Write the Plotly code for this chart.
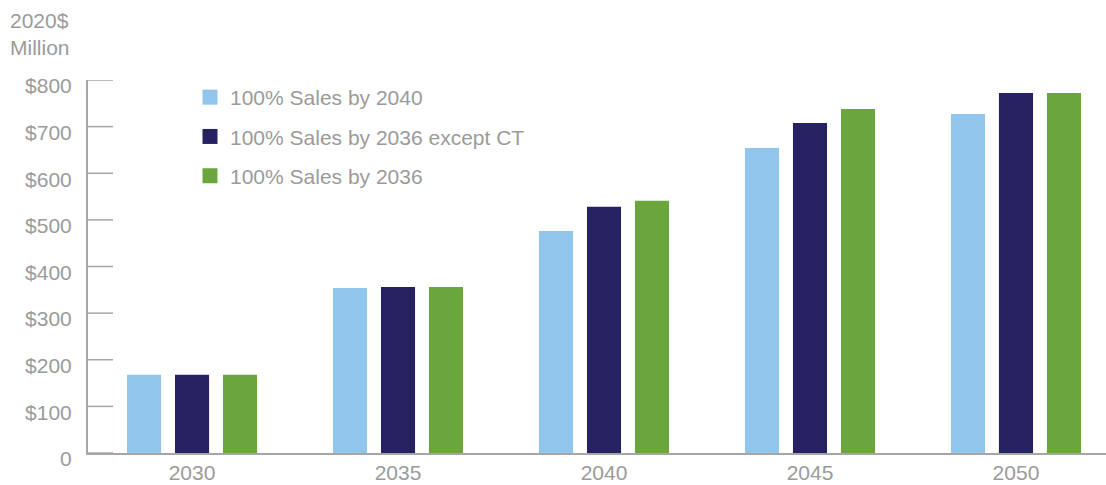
import plotly.graph_objects as go

# Annual cost, 2020$ million
years = ["2030", "2035", "2040", "2045", "2050"]
series_names = [
    "100% Sales by 2040",
    "100% Sales by 2036 except CT",
    "100% Sales by 2036",
]
sales_2040 = [168, 354, 476, 654, 727]
sales_2036_except_ct = [168, 356, 528, 708, 772]
sales_2036 = [168, 356, 541, 738, 772]

y_tick_vals = [0, 100, 200, 300, 400, 500, 600, 700, 800]
y_tick_text = ["0", "$100", "$200", "$300", "$400", "$500", "$600", "$700", "$800"]

colors = ["#92C5EB", "#262262", "#6AA53E"]
text_grey = "#9B9B9B"
axis_grey = "#A6A6A6"
font_family = "Liberation Sans, Arial, sans-serif"
fs = 21

W, H = 1106, 485
M_L, M_R, M_T, M_B = 88, 0, 80, 32
plot_w = W - M_L - M_R
plot_h = H - M_T - M_B
tick_len_px = 25

fig = go.Figure()

for name, vals, col in zip(series_names, [sales_2040, sales_2036_except_ct, sales_2036], colors):
    fig.add_trace(go.Bar(
        x=years, y=vals, name=name, marker=dict(color=col, line=dict(width=0)),
        showlegend=False,
    ))

# legend entries with larger square swatches
for i, (name, col) in enumerate(zip(series_names, colors)):
    fig.add_trace(go.Scatter(
        x=[None], y=[None], mode="markers", name=name,
        marker=dict(symbol="square", size=15, color=col),
        legendgroup=f"g{i}", showlegend=True,
    ))

# empty trace so the label axis is rendered
fig.add_trace(go.Scatter(x=[None], y=[None], yaxis="y2", showlegend=False,
                         hoverinfo="skip"))

# inward tick marks on the value axis, one per tick value
for v in y_tick_vals:
    fig.add_shape(
        type="line", xref="paper", yref="y",
        x0=0, x1=tick_len_px / plot_w, y0=v, y1=v,
        line=dict(color=axis_grey, width=1.5), layer="above",
    )

fig.update_layout(
    width=W, height=H,
    margin=dict(l=M_L, r=M_R, t=M_T, b=M_B, pad=0),
    paper_bgcolor="white", plot_bgcolor="white",
    font=dict(family=font_family, size=fs, color=text_grey),
    barmode="group",
    bargap=0.301,
    bargroupgap=0.29,
    showlegend=True,
    legend=dict(
        x=(190 - M_L) / plot_w, y=1 - (77 - M_T) / plot_h,
        xanchor="left", yanchor="top",
        bgcolor="rgba(0,0,0,0)", borderwidth=0,
        font=dict(family=font_family, size=fs, color=text_grey),
        tracegroupgap=9, traceorder="grouped",
    ),
    xaxis=dict(
        type="category",
        range=[-0.505, 4.437],
        automargin=False,
        showline=True, linecolor=axis_grey, linewidth=1.5,
        ticks="", showgrid=False, zeroline=False,
        tickfont=dict(size=fs, color=text_grey),
    ),
    # main value axis: the line only
    yaxis=dict(
        range=[0, 800],
        automargin=False,
        showline=True, linecolor=axis_grey, linewidth=1.5,
        ticks="", tickvals=y_tick_vals, showticklabels=False,
        showgrid=False, zeroline=False,
    ),
    # label axis: invisible outside ticks push the labels away from the line
    yaxis2=dict(
        overlaying="y", side="left",
        range=[0, 800],
        automargin=False,
        showline=False,
        ticks="outside", ticklen=11, tickcolor="rgba(0,0,0,0)",
        tickvals=y_tick_vals, ticktext=y_tick_text,
        showgrid=False, zeroline=False,
        tickfont=dict(size=fs, color=text_grey),
        ticklabelshift=6,
    ),
    annotations=[dict(
        text="2020$<br>Million",
        xref="paper", yref="paper",
        x=-M_L / plot_w, y=1 + (M_T - 7) / plot_h,
        xanchor="left", yanchor="top", xshift=8,
        align="left", showarrow=False,
        font=dict(family=font_family, size=fs, color=text_grey),
    )],
)

fig.write_html("out.html")
